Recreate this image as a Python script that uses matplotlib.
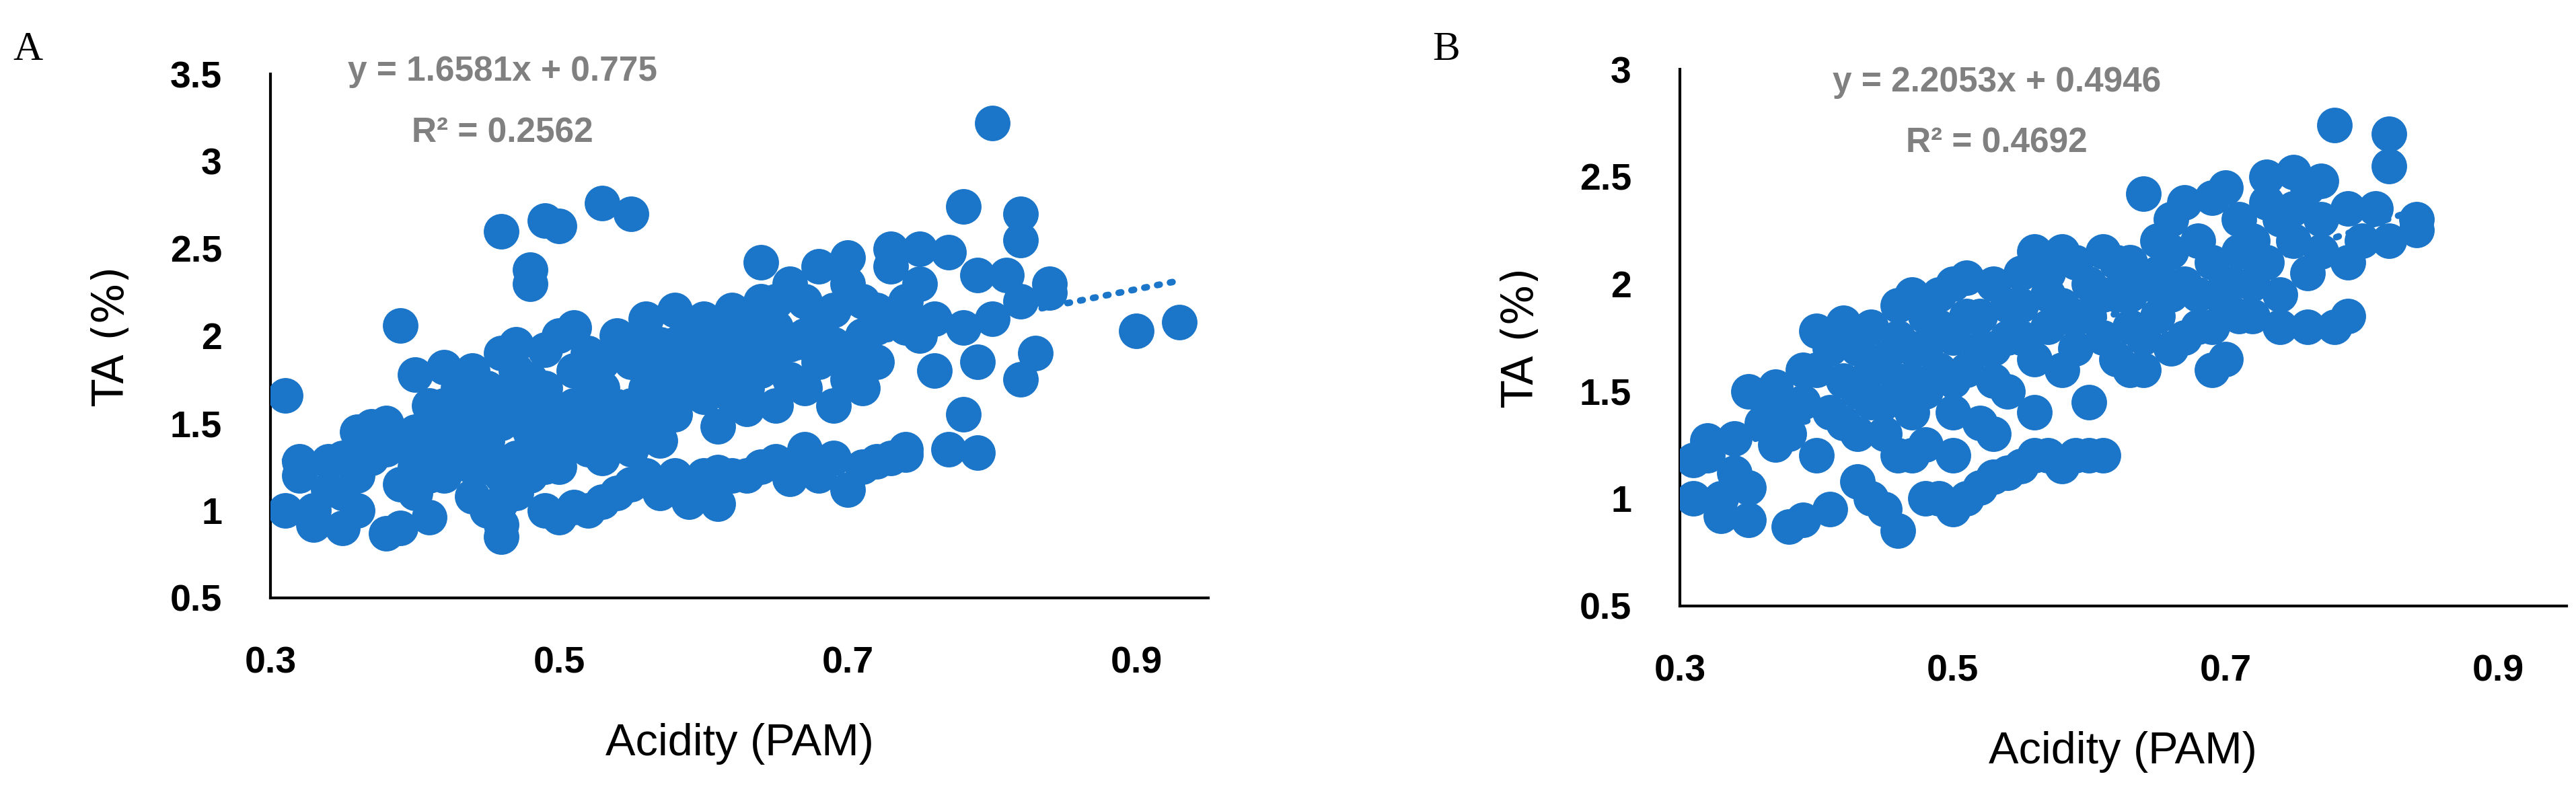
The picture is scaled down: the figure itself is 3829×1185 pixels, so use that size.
import matplotlib
matplotlib.use("Agg")
import matplotlib.pyplot as plt
import numpy as np

blue = '#1b75c9'
grey = '#808080'
narrow = ['Liberation Sans Narrow', 'Liberation Sans', 'DejaVu Sans']

# Panel A: (acidity, TA)
a_pts = [(0.31,1.66),(0.31,1.0),(0.32,1.28),(0.32,1.2),(0.33,0.92),(0.33,1.0),(0.34,1.28),(0.35,0.9),
         (0.35,1.1),(0.36,1.0),(0.36,1.2),(0.37,1.48),(0.38,1.5),(0.38,0.87),(0.39,0.9),(0.39,2.06),
         (0.38,1.35),(0.39,1.42),(0.4,1.78),(0.4,1.1),(0.4,1.25),(0.41,0.96),(0.41,1.6),(0.42,1.82),
         (0.42,1.45),(0.43,1.3),(0.43,1.55),(0.44,1.8),(0.44,1.6),(0.44,1.08),(0.45,1.0),(0.45,1.4),
         (0.45,1.7),(0.46,0.85),(0.46,0.92),(0.46,1.05),(0.46,2.6),(0.46,1.9),(0.46,1.5),(0.47,1.95),
         (0.47,1.6),(0.47,1.3),(0.48,2.38),(0.48,2.3),(0.48,1.75),(0.48,1.45),(0.48,1.2),(0.49,2.66),
         (0.49,1.0),(0.49,1.92),(0.5,2.63),(0.5,0.96),(0.5,2.0),(0.5,1.55),(0.5,1.25),(0.51,1.8),
         (0.51,1.02),(0.51,2.05),(0.52,1.6),(0.52,1.0),(0.52,1.9),(0.53,2.76),(0.53,1.05),(0.53,1.7),
         (0.54,2.0),(0.54,1.4),(0.55,2.7),(0.55,1.15),(0.55,1.85),(0.56,1.2),(0.56,2.1),(0.56,1.5),
         (0.57,1.1),(0.57,1.95),(0.58,2.15),(0.58,1.2),(0.58,1.75),(0.59,1.05),(0.59,2.0),(0.6,1.2),
         (0.6,1.9),(0.6,2.1),(0.61,1.48),(0.61,1.04),(0.62,2.15),(0.62,1.65),(0.62,1.2),(0.63,1.85),
         (0.63,1.58),(0.64,2.42),(0.64,1.25),(0.64,2.0),(0.65,2.2),(0.65,1.6),(0.66,1.18),(0.66,2.3),
         (0.66,1.75),(0.67,1.35),(0.67,2.0),(0.68,2.4),(0.68,1.2),(0.68,1.85),(0.69,1.3),(0.69,1.6),
         (0.69,2.15),(0.7,2.45),(0.7,1.12),(0.7,1.9),(0.71,1.7),(0.71,1.25),(0.72,2.15),(0.72,1.85),
         (0.73,2.4),(0.73,1.3),(0.73,2.5),(0.74,2.05),(0.74,1.35),(0.75,2.5),(0.75,2.3),(0.76,2.1),
         (0.76,1.8),(0.77,2.48),(0.77,1.35),(0.78,2.74),(0.78,1.55),(0.78,2.05),(0.79,2.35),(0.79,1.85),
         (0.79,1.33),(0.8,3.22),(0.8,2.1),(0.81,2.35),(0.82,2.7),(0.82,2.55),(0.82,1.75),(0.82,2.2),
         (0.83,1.9),(0.84,2.3),(0.84,2.25),(0.9,2.03),(0.93,2.08),
         (0.45,1.55),(0.47,1.8),(0.49,1.7),(0.51,1.6),(0.53,1.85),(0.55,1.6),(0.57,1.8),(0.59,1.7),
         (0.61,1.95),(0.63,2.05),(0.65,1.9),(0.67,2.2),(0.69,1.95),(0.71,2.0),(0.43,1.4),(0.41,1.35),
         (0.42,1.2),(0.37,1.3),(0.39,1.15),(0.44,1.25),(0.54,1.55),(0.56,1.7),(0.58,1.55),(0.6,1.65),
         (0.52,1.35),(0.5,1.4),(0.48,1.35),(0.46,1.2),(0.47,1.1),(0.65,1.28),(0.63,1.2),(0.61,1.22),
         (0.54,1.1),(0.72,1.28),(0.74,1.32),(0.35,1.3),(0.34,1.12),
         (0.46,1.65),(0.48,1.6),(0.49,1.5),(0.51,1.45),(0.52,1.75),(0.53,1.5),(0.55,1.95),(0.56,1.85),
         (0.57,1.6),(0.58,1.95),(0.59,1.85),(0.6,1.8),(0.61,1.75),(0.62,1.9),(0.63,1.7),(0.64,1.8),
         (0.65,2.05),(0.66,1.95),(0.67,1.7),(0.68,2.05),(0.7,1.75),(0.71,2.2),(0.72,2.05),(0.74,2.2),
         (0.75,2.0),(0.43,1.7),(0.42,1.6),(0.44,1.45),(0.45,1.25),(0.49,1.25),(0.53,1.3),(0.55,1.35),
         (0.57,1.4),(0.4,1.45),(0.41,1.2),(0.36,1.45),(0.62,2.0),(0.6,2.0),(0.64,2.2),(0.7,2.3)]

# Panel B
b_pts = [(0.31,1.0),(0.31,1.18),(0.32,1.27),(0.32,1.2),(0.33,0.92),(0.33,1.0),(0.34,1.28),(0.34,1.12),
         (0.35,0.9),(0.35,1.05),(0.35,1.5),(0.36,1.48),(0.36,1.35),(0.37,1.52),(0.37,1.25),(0.38,0.87),
         (0.38,1.3),(0.39,0.9),(0.39,1.45),(0.4,1.78),(0.4,1.6),(0.4,1.2),(0.41,0.95),(0.41,1.4),
         (0.42,1.82),(0.42,1.55),(0.43,1.3),(0.43,1.08),(0.44,1.8),(0.44,1.45),(0.44,1.0),(0.45,1.65),
         (0.45,1.3),(0.45,0.95),(0.46,0.85),(0.46,1.2),(0.46,1.9),(0.46,1.55),(0.47,1.95),(0.47,1.7),
         (0.47,1.4),(0.48,1.85),(0.48,1.25),(0.49,1.6),(0.49,1.0),(0.49,1.95),(0.5,1.75),(0.5,2.0),
         (0.5,0.95),(0.5,1.4),(0.51,2.03),(0.51,1.0),(0.51,1.6),(0.52,1.85),(0.52,1.05),(0.52,1.35),
         (0.53,2.0),(0.53,1.1),(0.53,1.7),(0.54,1.9),(0.54,1.12),(0.54,1.5),(0.55,2.05),(0.55,1.15),
         (0.55,1.75),(0.56,2.15),(0.56,1.2),(0.56,1.4),(0.57,1.95),(0.57,1.2),(0.57,1.8),(0.58,2.15),
         (0.58,1.15),(0.58,1.6),(0.59,2.1),(0.59,1.2),(0.59,1.85),(0.6,2.0),(0.6,1.2),(0.6,1.45),
         (0.61,2.15),(0.61,1.2),(0.61,1.75),(0.62,1.95),(0.62,1.65),(0.63,2.1),(0.63,1.8),(0.63,1.6),
         (0.64,2.42),(0.64,2.0),(0.64,1.6),(0.65,2.2),(0.65,1.85),(0.66,2.3),(0.66,1.95),(0.67,2.38),
         (0.67,1.75),(0.68,2.2),(0.68,1.95),(0.69,2.4),(0.69,1.6),(0.69,1.8),(0.7,2.45),(0.7,2.0),
         (0.7,1.65),(0.71,2.15),(0.71,1.85),(0.72,2.0),(0.73,2.5),(0.73,2.38),(0.73,2.1),(0.74,2.3),
         (0.74,1.95),(0.74,1.8),(0.75,2.52),(0.75,2.2),(0.76,2.45),(0.76,2.05),(0.76,1.8),(0.77,2.48),
         (0.77,2.15),(0.78,2.74),(0.78,1.8),(0.79,2.35),(0.79,2.1),(0.79,1.85),(0.8,2.2),(0.81,2.35),
         (0.82,2.7),(0.82,2.55),(0.82,2.2),(0.84,2.3),(0.84,2.25),
         (0.38,1.42),(0.39,1.6),(0.41,1.7),(0.42,1.35),(0.43,1.5),(0.43,1.7),(0.44,1.6),(0.45,1.45),
         (0.46,1.75),(0.47,1.55),(0.48,1.5),(0.48,1.7),(0.49,1.8),(0.5,1.55),(0.51,1.85),(0.52,1.7),
         (0.53,1.55),(0.54,1.75),(0.55,1.9),(0.56,1.65),(0.57,2.05),(0.58,1.9),(0.59,1.7),(0.6,1.85),
         (0.61,1.95),(0.62,2.1),(0.63,1.95),(0.64,1.75),(0.65,2.05),(0.66,2.15),(0.67,2.0),(0.68,1.8),
         (0.69,2.1),(0.7,1.9),(0.71,2.3),(0.72,2.2),(0.72,1.85),(0.75,2.35),(0.77,2.3),(0.66,1.7),
         (0.47,1.2),(0.48,1.0),(0.5,1.2),(0.53,1.3)]

a_fit = (1.6581, 0.775)
b_fit = (2.2053, 0.4946)
a_eq = ['y = 1.6581x + 0.775', 'R² = 0.2562']
b_eq = ['y = 2.2053x + 0.4946', 'R² = 0.4692']
x_ticks = [0.3, 0.5, 0.7, 0.9]
a_yticks = [0.5, 1, 1.5, 2, 2.5, 3, 3.5]
b_yticks = [0.5, 1, 1.5, 2, 2.5, 3]

fig = plt.figure(figsize=(38.3, 11.85), dpi=100)
axA = fig.add_axes([0.105, 0.25, 0.364, 0.657])
axB = fig.add_axes([0.652, 0.24, 0.344, 0.673])


def panel(ax, pts, fit, eq, yticks, letter, letter_x, eq_x, eq_y):
    x, y = zip(*pts)
    ax.scatter(x, y, s=1450, color=blue, linewidths=0, zorder=3)
    xs = np.array([min(x), max(x)])
    ax.plot(xs, fit[0] * xs + fit[1], linestyle=(0, (0.4, 1.6)), color=blue,
            lw=7, dash_capstyle='round', zorder=2)
    ax.set_xlim(0.3, 0.95)
    ax.set_ylim(yticks[0], yticks[-1])
    ax.set_xticks(x_ticks)
    ax.set_xticklabels([str(t) for t in x_ticks])
    ax.set_yticks(yticks)
    ax.set_yticklabels([f'{t:g}' for t in yticks])
    ax.tick_params(length=0, pad=52, labelsize=40)
    for lab in ax.get_xticklabels() + ax.get_yticklabels():
        lab.set_family(narrow)
        lab.set_fontweight('bold')
    for s in ['top', 'right']:
        ax.spines[s].set_visible(False)
    for s in ['left', 'bottom']:
        ax.spines[s].set_linewidth(3)
    ax.set_xlabel('Acidity (PAM)', family=narrow, fontsize=48, labelpad=45)
    ax.set_ylabel('TA (%)', fontsize=46, labelpad=40)
    ax.text(eq_x, eq_y, eq[0], transform=fig.transFigure, ha='center', va='center',
            family=narrow, fontweight='bold', fontsize=37, color=grey)
    ax.text(eq_x, eq_y - 0.077, eq[1], transform=fig.transFigure, ha='center', va='center',
            family=narrow, fontweight='bold', fontsize=37, color=grey)
    fig.text(letter_x, 0.925, letter, family='Liberation Serif', fontsize=44)


panel(axA, a_pts, a_fit, a_eq, a_yticks, 'A', 0.005, 0.195, 0.91)
panel(axB, b_pts, b_fit, b_eq, b_yticks, 'B', 0.556, 0.775, 0.897)

fig.savefig('out.png', dpi=100)
